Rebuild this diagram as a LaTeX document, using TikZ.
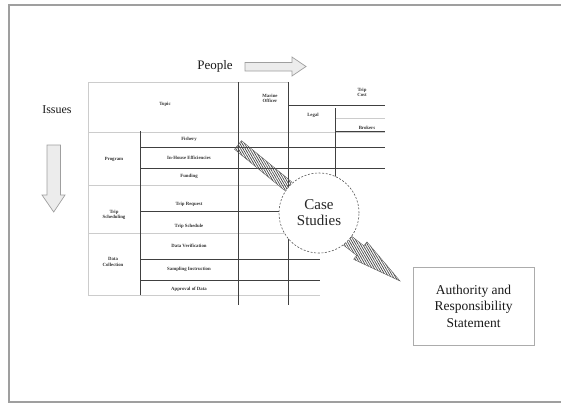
\documentclass[tikz,border=0pt]{standalone}
\usepackage{fontspec}
\setmainfont{Liberation Serif}
\usetikzlibrary{patterns.meta}
\begin{document}
\begin{tikzpicture}[x=1pt,y=-1pt,
  frameline/.style={draw=gray!75, line width=1.5pt},
  dimline/.style={draw=gray!40, line width=0.5pt},
  tabline/.style={draw=black!75, line width=0.7pt},
  tinytext/.style={font=\fontsize{4.8}{5.2}\selectfont\bfseries, text=black!80, inner sep=0pt, align=center},
  bigtext/.style={font=\fontsize{13}{15}\selectfont, text=black!90, inner sep=0pt},
  blockarrow/.style={draw=gray!75, fill=gray!15, line width=0.7pt},
  hatcharrow/.style={draw=black!65, line width=0.4pt, pattern={Lines[angle=-60,distance=2pt,line width=0.75pt]}, pattern color=black!70}
]
\useasboundingbox (0,0) rectangle (561,404);
% frame
\draw[frameline] (561,5) -- (9,5) -- (9,402) -- (561,402);

% labels and block arrows
\node[bigtext] (people) at (215,66) {People};
\draw[blockarrow] (245,62.5) -- (292,62.5) -- (292,57) -- (306,66.5) -- (292,76) -- (292,71) -- (245,71) -- cycle;
\node[bigtext, font=\fontsize{12}{14}\selectfont] (issues) at (57,110) {Issues};
\draw[blockarrow] (47,145) -- (60.5,145) -- (60.5,195) -- (65,195) -- (53.7,212) -- (42,195) -- (47,195) -- cycle;

% table: faint rules
\draw[dimline] (88,82) -- (288,82);
\draw[dimline] (88,82) -- (88,295);
\draw[dimline] (88,132) -- (385,132);
\draw[dimline] (88,185) -- (300,185);
\draw[dimline] (88,233) -- (320,233);
\draw[dimline] (88,295) -- (320,295);
\draw[dimline] (335,118) -- (385,118);
% table: dark rules
\draw[tabline] (140,131) -- (140,295);
\draw[tabline] (238,82) -- (238,305);
\draw[tabline] (288,82) -- (288,305);
\draw[tabline] (335,108) -- (335,185);
\draw[tabline] (288,105) -- (385,105);
\draw[tabline] (335,131.5) -- (385,131.5);
\draw[tabline] (140,147) -- (385,147);
\draw[tabline] (140,168) -- (385,168);
\draw[tabline] (140,211) -- (290,211);
\draw[tabline] (140,259) -- (320,259);
\draw[tabline] (140,280) -- (320,280);

% table texts
\node[tinytext] (hTopic) at (165,104) {Topic};
\node[tinytext] (hMarine) at (270,98) {Marine\\Officer};
\node[tinytext] (hCost) at (362,92) {Trip\\Cost};
\node[tinytext] (hLegal) at (313,115) {Legal};
\node[tinytext] (hBrokers) at (367,128) {Brokers};
\node[tinytext] (gProgram) at (114,159) {Program};
\node[tinytext] (rFishery) at (189,139.5) {Fishery};
\node[tinytext] (rInhouse) at (189,157.5) {In-House Efficiencies};
\node[tinytext] (rFunding) at (189,176.5) {Funding};
\node[tinytext] (gTrip) at (114,215) {Trip\\Scheduling};
\node[tinytext] (rRequest) at (189,204) {Trip Request};
\node[tinytext] (rSchedule) at (189,226) {Trip Schedule};
\node[tinytext] (gData) at (113,262) {Data\\Collection};
\node[tinytext] (rVerif) at (189,246) {Data Verification};
\node[tinytext] (rSampling) at (189,269.5) {Sampling Instruction};
\node[tinytext] (rApproval) at (189,289) {Approval of Data};

% hatched arrows
\draw[hatcharrow] (241.5,140.7) -- (291.5,181.7) -- (288,190) -- (284.5,190.3) -- (234.5,149.3) -- cycle;
\draw[hatcharrow] (333.6,222.2) -- (363.9,245.8) -- (367,241.9) -- (400,281) -- (353.6,259.3) -- (356.7,255.4) -- (326.4,231.8) -- cycle;

% case studies circle
\node[circle, draw=black!65, dash pattern=on 2pt off 1.6pt, line width=0.6pt, fill=white,
      minimum size=80pt, inner sep=0pt, align=center,
      font=\fontsize{15}{16}\selectfont, text=black!85] (case) at (319,213) {Case\\Studies};

% statement box
\node[draw=gray!65, line width=0.6pt, minimum width=121pt, minimum height=78pt, inner sep=0pt,
      align=center, font=\fontsize{13.5}{16.5}\selectfont, text=black!90] (stmt) at (473.5,306)
      {Authority and\\Responsibility\\Statement};
\end{tikzpicture}
\end{document}
